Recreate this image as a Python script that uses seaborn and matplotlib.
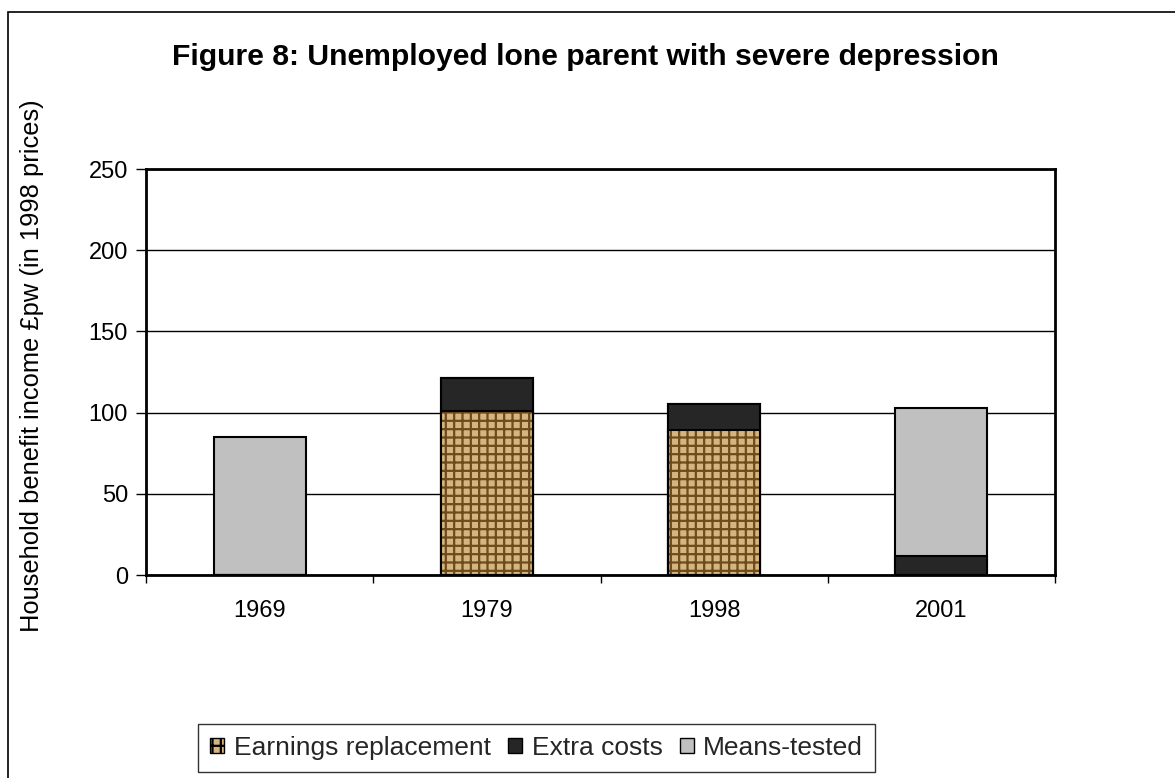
import matplotlib
matplotlib.use("Agg")
import matplotlib.pyplot as plt
import seaborn as sns
import numpy as np
import pandas as pd
from matplotlib.patches import Patch, Rectangle

years = ["1969", "1979", "1998", "2001"]
earnings_replacement = [0, 101, 89, 0]
extra_costs = [0, 20, 16, 12]
means_tested = [85, 0, 0, 91]
yticks = [0, 50, 100, 150, 200, 250]

title = "Figure 8: Unemployed lone parent with severe depression"
ylabel = "Household benefit income £pw (in 1998 prices)"
legend_labels = ["Earnings replacement", "Extra costs", "Means-tested"]

sns.set_theme(style="white")
plt.rcParams["font.family"] = ["Liberation Sans", "DejaVu Sans"]
plt.rcParams["hatch.linewidth"] = 1.6

EARN_FACE = "#D4B57E"
EARN_HATCH = "#6E4A1C"
EXTRA = "#262626"
MEANS = "#C0C0C0"

df = pd.DataFrame({
    "year": years,
    "earn": earnings_replacement,
    "extra": extra_costs,
    "means": means_tested,
})
df["cum_extra"] = df["earn"] + df["extra"]
df["cum_total"] = df["cum_extra"] + df["means"]

W, H = 1175, 778
fig = plt.figure(figsize=(W / 100, H / 100), dpi=100)
ax = fig.add_axes([146 / W, 1 - 575 / H, (1055 - 146) / W, (575 - 169) / H])

bw = 0.405
sns.barplot(data=df, x="year", y="cum_total", color=MEANS, edgecolor="black",
            linewidth=1.5, width=bw, saturation=1, ax=ax, zorder=3)
sns.barplot(data=df, x="year", y="cum_extra", color=EXTRA, edgecolor="black",
            linewidth=1.5, width=bw, saturation=1, ax=ax, zorder=4)
sns.barplot(data=df, x="year", y="earn", color=EARN_FACE, edgecolor=EARN_FACE,
            linewidth=0, width=bw, saturation=1, ax=ax, zorder=5)
sns.barplot(data=df, x="year", y="earn", facecolor="none", edgecolor=EARN_HATCH,
            hatch="++", linewidth=0, width=bw, saturation=1, ax=ax, zorder=6)
sns.barplot(data=df, x="year", y="earn", facecolor="none", edgecolor="black",
            linewidth=1.5, width=bw, saturation=1, ax=ax, zorder=7)

ax.set_ylim(0, 250)
ax.set_xlim(-0.5, len(years) - 0.5)
ax.set_yticks(yticks)
ax.set_yticklabels([str(v) for v in yticks], fontsize=17)
ax.set_xticks(range(len(years)))
ax.set_xticklabels(years, fontsize=17)
ax.set_xticks(np.arange(-0.5, len(years), 1.0), minor=True)
ax.tick_params(axis="x", which="major", length=0, pad=18, colors="black")
ax.tick_params(axis="x", which="minor", length=6, width=1, direction="out",
               bottom=True, color="black")
ax.tick_params(axis="y", which="major", length=7, width=1, direction="out",
               left=True, pad=6, colors="black")
ax.yaxis.grid(True, color="black", linewidth=1, zorder=0)
ax.set_axisbelow(True)
for s in ax.spines.values():
    s.set_visible(True)
    s.set_color("black")
    s.set_linewidth(2)

ax.set_xlabel("")
ax.set_ylabel(ylabel, fontsize=18.4, color="black")
ax.yaxis.set_label_coords((44 - 146) / (1055 - 146), 0.515)

fig.text(585 / W, 1 - 57 / H, title, fontsize=21.7, fontweight="bold",
         ha="center", va="center", color="black")

fig.patches.append(Rectangle((8 / W, -0.05), 1.1, 1 - 12 / H + 0.05,
                             transform=fig.transFigure, fill=False,
                             edgecolor="black", linewidth=1.2))

handles = [
    Patch(facecolor=EARN_FACE, edgecolor="black", hatch="++", linewidth=1),
    Patch(facecolor=EXTRA, edgecolor="black", linewidth=1),
    Patch(facecolor=MEANS, edgecolor="black", linewidth=1),
]
leg = fig.legend(handles, legend_labels, loc="upper left",
                 bbox_to_anchor=(198 / W, 1 - 724 / H), ncol=3, fontsize=19,
                 frameon=True, fancybox=False, handlelength=0.55,
                 handleheight=0.55, handletextpad=0.35, columnspacing=0.65,
                 borderpad=0.45, borderaxespad=0)
leg.get_frame().set_edgecolor("black")
leg.get_frame().set_linewidth(1)

fig.savefig("out.png", dpi=100, facecolor="white")
